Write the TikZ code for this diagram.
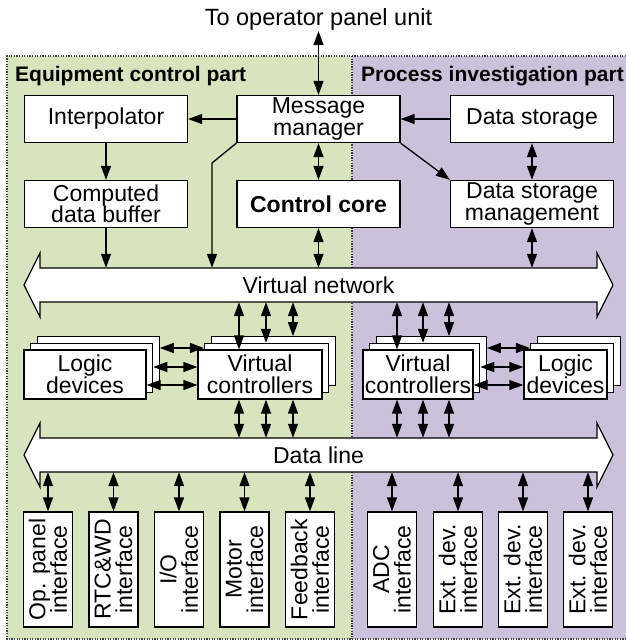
\documentclass[tikz,border=0pt]{standalone}
\usepackage{fontspec}
\setmainfont{Liberation Sans}
\usetikzlibrary{arrows.meta, calc}
\definecolor{eqgreen}{HTML}{D7E4BD}
\definecolor{invpurple}{HTML}{CCC1DA}
\newcommand{\boxfont}{\fontsize{23}{21.5}\selectfont}
\newcommand{\titlefont}{\fontsize{21}{22}\selectfont\bfseries}
\tikzset{
    % Dotted edge of the two parts
    part edge/.style={draw=black!75, line width=1.3pt, dash pattern=on 1.3pt off 1.3pt},
    part title/.style={anchor=west, inner sep=0pt, font=\titlefont},
    % White function blocks
    unit box/.style={draw, fill=white, line width=1.3pt, align=center, inner sep=0pt,
        font=\boxfont, minimum width=163pt, minimum height=47pt},
    layer box/.style={unit box, minimum height=49pt},
    iface box/.style={unit box, rotate=90, minimum width=115pt, minimum height=49pt},
    % Wide double arrows (buses)
    bus/.style={draw, fill=white, line width=1.3pt, line join=miter},
    bus label/.style={inner sep=0pt, font=\boxfont, minimum width=557pt, minimum height=34pt},
    % Connectors
    link/.style={line width=1.3pt, -{Triangle[length=14pt,width=10pt]}},
    both link/.style={line width=1.3pt, {Triangle[length=14pt,width=10pt]}-{Triangle[length=14pt,width=10pt]}}
}

\begin{document}
\begin{tikzpicture}[x=1pt, y=-1pt]
    \useasboundingbox (0,0) rectangle (626,643);

    % --- Two parts ---
    \fill[eqgreen] (7,56) rectangle (352,639);
    \fill[invpurple] (352,56) rectangle (626,639);
    \draw[part edge] (626,56) -- (7,56) -- (7,639) -- (626,639);
    \draw[part edge] (352,56) -- (352,639);
    \node[part title] (eqTitle) at (15,76) {Equipment control part};
    \node[part title] (invTitle) at (361,76) {Process investigation part};

    % --- Upper blocks ---
    \node[inner sep=1pt, font=\fontsize{23.5}{24}\selectfont] (panel) at (318.5,19) {To operator panel unit};
    \node[unit box] (interp) at (106,119) {Interpolator};
    \node[unit box] (mm) at (318.5,119) {Message\\manager};
    \node[unit box] (ds) at (532,119) {Data storage};
    \node[unit box] (cdb) at (106,204) {Computed\\data buffer};
    \node[unit box, font=\fontsize{23}{24}\selectfont\bfseries] (cc) at (318.5,204) {Control core};
    \node[unit box] (dsm) at (532,204) {Data storage\\management};

    % --- Buses ---
    \draw[bus] (24,285) -- (40,253) -- (40,268) -- (597,268) -- (597,253) -- (613,285)
        -- (597,317) -- (597,302) -- (40,302) -- (40,317) -- cycle;
    \node[bus label] (vnet) at (318.5,285) {Virtual network};
    \draw[bus] (24,455) -- (40,423) -- (40,438) -- (597,438) -- (597,423) -- (613,455)
        -- (597,487) -- (597,472) -- (40,472) -- (40,487) -- cycle;
    \node[bus label] (dline) at (318.5,455) {Data line};

    % --- Stacked blocks ---
    \coordinate (ldLc) at (85,374.5);
    \coordinate (vcLc) at (260,374.5);
    \coordinate (vcRc) at (418,374.5);
    \coordinate (ldRc) at (565.5,374.5);
    \foreach \k in {2,1} {
        \node[layer box, minimum width=122pt] (ldL\k) at ([shift={(6.6*\k,-6.6*\k)}]ldLc) {};
        \node[layer box, minimum width=124pt] (vcL\k) at ([shift={(6.6*\k,-6.6*\k)}]vcLc) {};
        \node[layer box, minimum width=110pt] (vcR\k) at ([shift={(6.6*\k,-6.6*\k)}]vcRc) {};
        \node[layer box, minimum width=83pt] (ldR\k) at ([shift={(6.6*\k,-6.6*\k)}]ldRc) {};
    }
    \node[layer box, minimum width=122pt] (ldL) at (ldLc) {Logic\\devices};
    \node[layer box, minimum width=124pt] (vcL) at (vcLc) {Virtual\\controllers};
    \node[layer box, minimum width=110pt] (vcR) at (vcRc) {Virtual\\controllers};
    \node[layer box, minimum width=83pt] (ldR) at (ldRc) {Logic\\devices};

    % --- Interfaces ---
    \foreach \name/\xc/\txt in {ifOp/48/{Op. panel\\interface}, ifRtc/113.5/{RTC\&WD\\interface},
        ifIo/179/{I/O\\interface}, ifMotor/244.5/{Motor\\interface}, ifFb/310/{Feedback\\interface},
        ifAdc/392/{ADC\\interface}, ifExtA/458/{Ext. dev.\\interface},
        ifExtB/523/{Ext. dev.\\interface}, ifExtC/588/{Ext. dev.\\interface}} {
        \node[iface box] (\name) at (\xc,569.5) {\txt};
        \draw[both link] (\name.east |- dline.south) -- (\name.east);
    }

    % --- Connectors, upper part ---
    \draw[both link] (panel.south) -- (mm.north);
    \draw[link] (mm.west) -- (interp.east);
    \draw[link] (ds.west) -- (mm.east);
    \draw[link] (interp.south) -- (cdb.north);
    \draw[both link] (mm.south) -- (cc.north);
    \draw[link] (mm.south east) -- (dsm.north west);
    \draw[both link] (ds.south) -- (dsm.north);
    \draw[link] (cdb.south) -- (cdb.south |- vnet.north);
    \coordinate (mmBend) at (212,163);
    \draw[link] (mm.south west) -- (mmBend) -- (mmBend |- vnet.north);
    \draw[both link] (cc.south) -- (cc.south |- vnet.north);
    \draw[both link] (dsm.south) -- (dsm.south |- vnet.north);

    % --- Connectors, controllers ---
    \draw[both link] (vnet.south -| 239,0) -- (vcL.north -| 239,0);
    \draw[both link] (vnet.south -| 266,0) -- (vcL1.north -| 266,0);
    \draw[both link] (vnet.south -| 293,0) -- (vcL2.north -| 293,0);
    \draw[both link] (vnet.south -| 397,0) -- (vcR.north -| 397,0);
    \draw[both link] (vnet.south -| 423,0) -- (vcR1.north -| 423,0);
    \draw[both link] (vnet.south -| 449,0) -- (vcR2.north -| 449,0);
    \foreach \xc in {239,266,293} \draw[both link] (vcL.south -| \xc,0) -- (dline.north -| \xc,0);
    \foreach \xc in {397,423,449} \draw[both link] (vcR.south -| \xc,0) -- (dline.north -| \xc,0);

    \draw[both link] (ldL2.east |- 0,348) -- (vcL1.west |- 0,348);
    \draw[both link] (ldL1.east |- 0,367) -- (vcL.west |- 0,367);
    \draw[both link] (ldL.east |- 0,385) -- (vcL.west |- 0,385);
    \draw[both link] (vcR2.east |- 0,348) -- (ldR1.west |- 0,348);
    \draw[both link] (vcR1.east |- 0,367) -- (ldR.west |- 0,367);
    \draw[both link] (vcR.east |- 0,385) -- (ldR.west |- 0,385);
\end{tikzpicture}
\end{document}
